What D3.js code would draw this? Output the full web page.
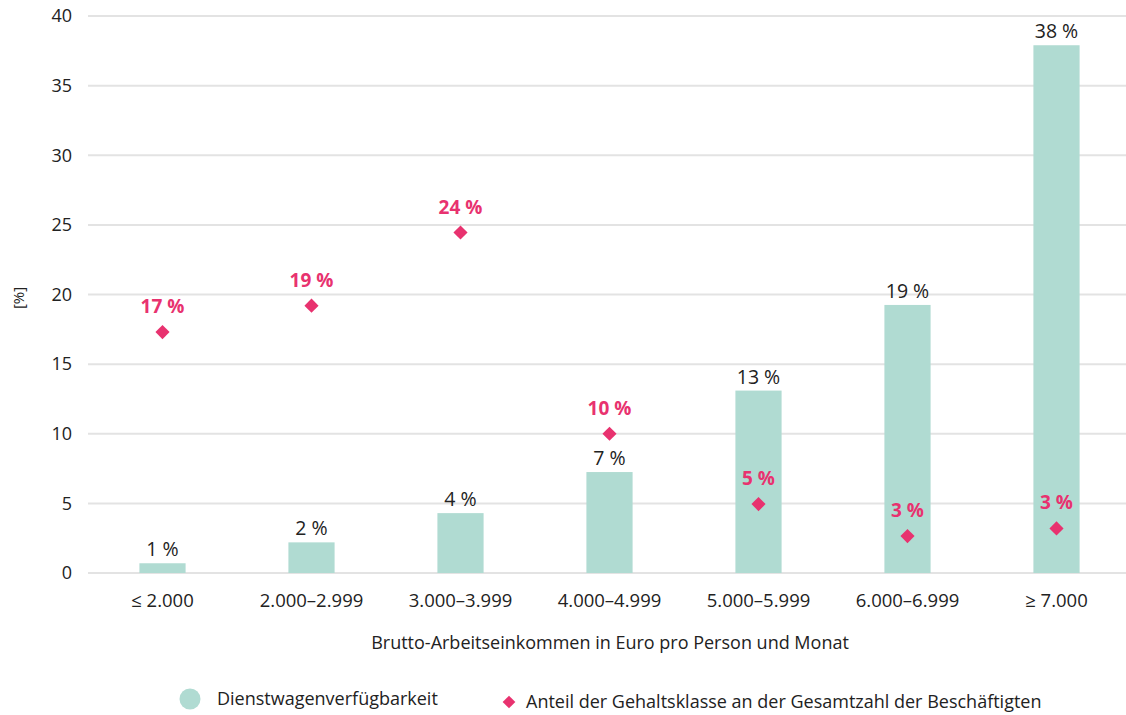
<!DOCTYPE html>
<html>
<head>
<meta charset="utf-8">
<script src="https://cdn.jsdelivr.net/npm/d3@7"></script>
<style>
  body { margin: 0; background: #fff; }
  svg { font-family: 'Open Sans', sans-serif; }
</style>
</head>
<body>
<svg id="chart" width="1126" height="715"></svg>
<script>
// categories and values
var categories = ['≤ 2.000', '2.000–2.999', '3.000–3.999', '4.000–4.999', '5.000–5.999', '6.000–6.999', '≥ 7.000'];
var carValues = [0.7, 2.2, 4.3, 7.25, 13.1, 19.25, 37.9];
var carLabels = ['1 %', '2 %', '4 %', '7 %', '13 %', '19 %', '38 %'];
var shareValues = [17.3, 19.2, 24.45, 10.0, 4.95, 2.65, 3.2];
var shareLabels = ['17 %', '19 %', '24 %', '10 %', '5 %', '3 %', '3 %'];
var yTicks = [0, 5, 10, 15, 20, 25, 30, 35, 40];

var barColor = '#b0dbd2';
var pink = '#e8326f';
var textColor = '#222';

var svg = d3.select('#chart');

var x = d3.scaleBand()
    .domain(categories)
    .range([88, 1131])
    .paddingInner(0.69)
    .paddingOuter(0.345);

var y = d3.scaleLinear()
    .domain([0, 40])
    .range([573, 16]);

// gridlines
svg.append('g')
    .selectAll('line')
    .data(yTicks)
    .enter()
    .append('line')
        .attr('x1', 88)
        .attr('x2', 1131)
        .attr('y1', function (d) { return y(d); })
        .attr('y2', function (d) { return y(d); })
        .attr('stroke', '#e3e3e3')
        .attr('stroke-width', 2);

// y axis
var yAxis = svg.append('g')
    .attr('transform', 'translate(88,0)')
    .call(d3.axisLeft(y).tickValues(yTicks).tickSize(0).tickPadding(16));
yAxis.select('.domain').remove();
yAxis.selectAll('text')
    .attr('font-size', 18)
    .attr('fill', textColor)
    .style('font-family', 'Open Sans');

// x axis
var xAxis = svg.append('g')
    .attr('transform', 'translate(0,573)')
    .call(d3.axisBottom(x).tickSize(0).tickPadding(21));
xAxis.select('.domain').remove();
xAxis.selectAll('text')
    .attr('font-size', 18.5)
    .attr('fill', textColor)
    .style('font-family', 'Open Sans');

// axis titles
svg.append('text')
    .attr('transform', 'translate(24,298) rotate(-90)')
    .attr('text-anchor', 'middle')
    .attr('font-size', 15)
    .attr('fill', textColor)
    .text('[%]');

svg.append('text')
    .attr('x', 610)
    .attr('y', 649)
    .attr('text-anchor', 'middle')
    .attr('font-size', 18)
    .attr('fill', textColor)
    .text('Brutto-Arbeitseinkommen  in Euro pro Person und Monat');

// bars
svg.append('g')
    .selectAll('rect')
    .data(carValues)
    .enter()
    .append('rect')
        .attr('x', function (d, i) { return x(categories[i]); })
        .attr('y', function (d) { return y(d); })
        .attr('width', x.bandwidth())
        .attr('height', function (d) { return y(0) - y(d); })
        .attr('fill', barColor);

svg.append('g')
    .selectAll('text')
    .data(carValues)
    .enter()
    .append('text')
        .attr('x', function (d, i) { return x(categories[i]) + x.bandwidth() / 2; })
        .attr('y', function (d) { return y(d) - 7; })
        .attr('text-anchor', 'middle')
        .attr('font-size', 19.5)
        .attr('fill', textColor)
        .text(function (d, i) { return carLabels[i]; });

// diamonds
svg.append('g')
    .selectAll('rect')
    .data(shareValues)
    .enter()
    .append('rect')
        .attr('x', -5)
        .attr('y', -5)
        .attr('width', 10)
        .attr('height', 10)
        .attr('fill', pink)
        .attr('transform', function (d, i) {
            return 'translate(' + (x(categories[i]) + x.bandwidth() / 2) + ',' + y(d) + ') rotate(45)';
        });

svg.append('g')
    .selectAll('text')
    .data(shareValues)
    .enter()
    .append('text')
        .attr('x', function (d, i) { return x(categories[i]) + x.bandwidth() / 2; })
        .attr('y', function (d) { return y(d) - 19; })
        .attr('text-anchor', 'middle')
        .attr('font-size', 19)
        .attr('font-weight', 'bold')
        .attr('fill', pink)
        .text(function (d, i) { return shareLabels[i]; });

// legend
var legend = svg.append('g');
legend.append('circle')
    .attr('cx', 190)
    .attr('cy', 699)
    .attr('r', 10.5)
    .attr('fill', barColor);
legend.append('text')
    .attr('x', 217)
    .attr('y', 705)
    .attr('font-size', 18)
    .attr('fill', textColor)
    .text('Dienstwagenverfügbarkeit');
legend.append('rect')
    .attr('x', -4.5)
    .attr('y', -4.5)
    .attr('width', 9)
    .attr('height', 9)
    .attr('fill', pink)
    .attr('transform', 'translate(509,702) rotate(45)');
legend.append('text')
    .attr('x', 526)
    .attr('y', 708)
    .attr('font-size', 18)
    .attr('fill', textColor)
    .text('Anteil der Gehaltsklasse an der Gesamtzahl der Beschäftigten');
</script>
</body>
</html>
